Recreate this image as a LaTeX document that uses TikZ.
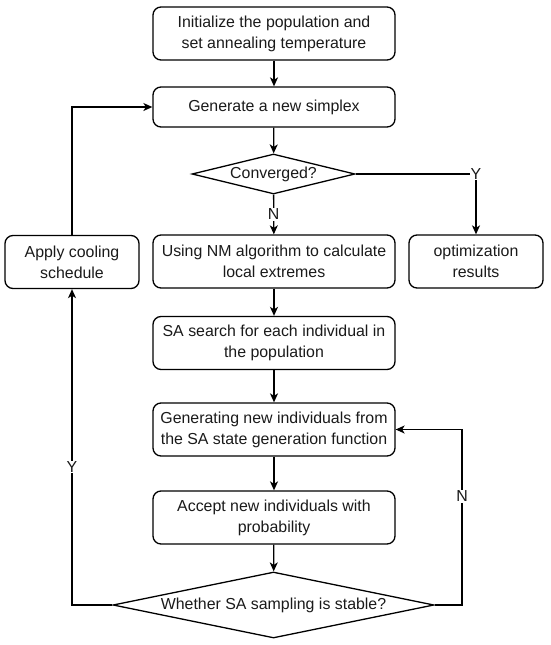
\documentclass[tikz,border=0pt]{standalone}
\usepackage{fontspec}
\setmainfont{Liberation Sans}
\usetikzlibrary{shapes.geometric,arrows.meta}
\definecolor{txt}{HTML}{1A1A1A}
\begin{document}
\begin{tikzpicture}[x=1pt,y=-1pt,
 font=\fontsize{15.9}{21}\selectfont,
 box/.style={draw, rounded corners=8pt, line width=1.3pt, minimum width=242pt, minimum height=53pt, align=center, inner sep=2pt, text=txt},
 dia/.style={draw, diamond, line width=1.3pt, inner sep=0pt, align=center, text=txt},
 arr/.style={line width=1.3pt, -{Stealth[length=9pt,width=8pt,inset=2.5pt]}},
 lbl/.style={fill=white, inner sep=1pt, text=txt}]
\useasboundingbox (0,0) rectangle (550,645);
\node[box] (init) at (274,33.5) {Initialize the population and\\set annealing temperature};
\node[box, minimum height=40pt] (simp) at (274,107) {Generate a new simplex};
\node[dia, aspect=4.075, minimum width=163pt, minimum height=40pt] (conv) at (273.5,174) {Converged?};
\node[box] (nm) at (274,261.5) {Using NM algorithm to calculate\\local extremes};
\node[box, minimum width=134pt] (opt) at (476,261.5) {optimization\\results};
\node[box, minimum width=134pt] (cool) at (72,262) {Apply cooling\\schedule};
\node[box] (sa) at (274,343) {SA search for each individual in\\the population};
\node[box] (gen) at (274,429.5) {Generating new individuals from\\the SA state generation function};
\node[box] (acc) at (274,517.5) {Accept new individuals with\\probability};
\node[dia, aspect=4.86, minimum width=321pt, minimum height=66pt] (stab) at (273.5,605) {Whether SA sampling is stable?};
\coordinate (nr) at (462,605);
\coordinate (lb) at (72,605);
\draw[arr] (init) -- (simp);
\draw[arr] (simp) -- (conv);
\draw[arr] (conv) -- node[lbl]{N} (nm);
\draw[arr] (conv.east) -| node[lbl, pos=0.5]{Y} (opt.north);
\draw[arr] (nm) -- (sa);
\draw[arr] (sa) -- (gen);
\draw[arr] (gen) -- (acc);
\draw[arr] (acc) -- (stab);
\draw[arr] (stab.east) -- (nr) |- node[lbl, pos=0.31]{N} (gen.east);
\draw[arr] (stab.west) -- (lb) -- node[lbl, pos=0.437]{Y} (cool.south);
\draw[arr] (cool.north) |- (simp.west);
\end{tikzpicture}
\end{document}
